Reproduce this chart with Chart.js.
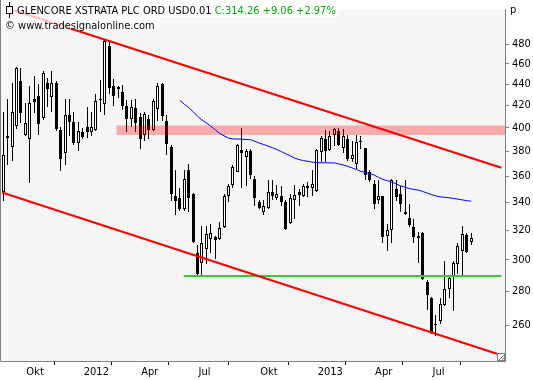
<!DOCTYPE html>
<html><head><meta charset="utf-8">
<script src="https://cdn.jsdelivr.net/npm/chart.js@4.4.0/dist/chart.umd.min.js"></script>
<style>html,body{margin:0;padding:0;background:#fff;overflow:hidden}#wrap{width:533px;height:380px;position:relative}</style>
</head><body><div id="wrap"><canvas id="c" width="533" height="380"></canvas></div>
<script>
// weekly candles (index 0 = first week shown)
const openP = [348,393,384,402,443,393.5,390,426,429,409, 441,428,441,398.5,379,411,405.6,387,396,400.5,
  396,398.5,425,421,478,438.5,437,433,420,408, 418,410,394,408,398,417,440,406,384,345,
  343,335,365,346.5,304.5,298,307,314,315,314, 322,345,353,363.4,381,375,380.5,358,340.5,332.7,
  335.7,347.7,343,345,340.5,325,341.5,347.5,344.6,352, 351,348.7,379.7,390.6,381,393.7,397,383,390.6,374,
  370,388.7,382.4,363.4,353.8,342,344.6,316,320,350, 346,332.7,328.7,322.3,314.3,318.2,285.7,276,261,262.4,
  271.8,281.6,288.7,297,306,316.5,311.5];
const highP = [414,426,441,457,456,422,438,448,440,453, 446,453,443,401,426,426,414,405,400,419,
  414,431,444,486,483,445,438.5,439,425,425, 426,413,414,411,426,441,441,411,385,365,
  351,365,370,347,310,323,323,324.5,316,326, 346,354,368.6,386,400,382,382,360,342,341.5,
  357,357,353,352,341.5,346,353,350,354,355.7, 365,382,393,398,397,400,400,399,394,388.7,
  394,393,383,364.7,357,357,345,324.5,358,357, 352,357,339,328,319,319,286.7,276.5,266,275.7,
  299,290,299,311.4,322.6,317.7,317.7];
const lowP = [341,369,372,399,404,393,355,413,393.5,406.5, 419,414,397,364,369,393,385,380,390,391,
  393,397,414,411,431,420,427,416,396.5,401, 396,382,389,390,397,406,406,377,341,331,
  334,334,333,311,289.7,290,297,304.5,300.5,313, 321.5,340,351,363,351,352,358,337,335,331,
  335,342,342,337,320,324.5,328,337,343.8,343.8, 344.6,348,371,371,380.5,384.6,384.6,379,372.5,371,
  366,382,357,355.7,335,338.6,311,305.6,311,341, 332.7,331,322.3,311,298,287,269,255,254,260.5,
  270.9,276,268,290.7,289.7,304.5,309.9];
const closeP = [377,391,414,456,413,404,422,423,403.6,451, 435,441,399,374,411,405,387,397,392,396,
  400.5,424,426,484,436,429,435,420,408,419, 404,390,412,398,424,438,410.5,386.5,346,341,
  335,358,343,312,290.5,311,317,318,313,321.6, 345,352.5,367,385,379,380,361,343,335.7,337,
  347.7,344.6,346.5,340,321,343.4,345.8,345.8,352.5,350.8, 354,381,391.4,380.5,393,399,385.2,393,374,377,
  388,388,361,357,339,344.6,315,320,357,343.8, 339,331.5,323.3,315.4,316.2,287.5,277.7,256,260,272.2,
  281.6,288,298,308.8,317,305.2,314.26];

// moving average, starts at week index maStart
const maStart = 40;
const maValues = [424.7,421.2,418.1,414.4,410.3,407.0,404.3,401.5,398.4,395.2,
  393.2,391.2,390.5,390.4,390.2,390.0,389.8,388.4,386.9,385.7,
  384.4,383.0,381.5,379.8,378.0,376.3,374.5,373.3,372.4,371.9,
  371.1,370.7,370.7,370.7,370.6,370.6,369.7,368.9,367.8,366.6,
  365.2,363.8,362.8,361.9,360.9,359.0,357.4,356.5,355.5,353.9,
  352.5,351.4,350.3,349.8,349.2,348.2,347.0,345.8,344.8,344.1,
  343.8,343.4,342.9,342.4,341.8,341.3,340.8];

// x-axis month ticks (week index) and labels
const tickIdx = [5,18,31,44,58,71,84,97];
const tickLbl = ['Okt','2012','Apr','Jul','Okt','2013','Apr','Jul'];
const yTicks = [260,280,300,320,340,360,380,400,420,440,460,480];

// drawn trend lines (week index, price)
const upperChannel = [{x:1.5,y:518.5},{x:112.85,y:366.6}];
const lowerChannel = [{x:-0.3,y:347.4},{x:112.85,y:243.5}];
const supportLine = [{x:40.9,y:289.5},{x:112.85,y:289.5}];
const zoneTop = [{x:25.6,y:402},{x:113.65,y:402}];
const zoneBottom = 393.8;

const titleText = 'GLENCORE XSTRATA PLC ORD USD0.01';
const quoteText = 'C:314.26 +9.06 +2.97%';
const copyText = '\u00A9 www.tradesignalonline.com';

const FONT = '"DejaVu Sans Condensed", "DejaVu Sans", sans-serif';
const idx = openP.map((_, i) => i);

const snap = {
  id: 'snap',
  beforeDatasetDraw(chart, args) {
    const ds = chart.data.datasets[args.index];
    if (!ds.snapX) return;
    args.meta.data.forEach(el => {
      el.x = Math.floor(el.x) + 0.5;
      el.y = Math.round(el.y);
      el.base = Math.round(el.base);
    });
  }
};

const deco = {
  id: 'deco',
  beforeDraw(chart) {
    const {ctx, chartArea: a} = chart;
    ctx.save();
    ctx.fillStyle = '#fff';
    ctx.fillRect(0, 0, chart.width, chart.height);
    ctx.fillStyle = '#f5f5f5';
    ctx.fillRect(a.left, a.top, a.right - a.left, a.bottom - a.top);
    ctx.restore();
  },
  afterDraw(chart) {
    const {ctx, chartArea: a} = chart;
    ctx.save();
    ctx.strokeStyle = '#808080';
    ctx.lineWidth = 1;
    ctx.beginPath(); ctx.moveTo(0.5, 0); ctx.lineTo(0.5, a.bottom + 0.5); ctx.stroke();
    ctx.font = '11px ' + FONT;
    const tw = ctx.measureText(titleText + ' ').width;
    const qw = ctx.measureText(quoteText).width;
    ctx.fillStyle = 'rgba(255,255,255,0.75)';
    ctx.fillRect(1, 0, 17 + tw + qw + 3, 17);
    const cw = ctx.measureText(copyText).width;
    ctx.fillRect(1, 17, 5 + cw + 4, 12);
    ctx.strokeStyle = '#000';
    ctx.beginPath(); ctx.moveTo(9.5, 2); ctx.lineTo(9.5, 18); ctx.stroke();
    ctx.fillStyle = '#fff';
    ctx.fillRect(6.5, 6.5, 6, 7);
    ctx.strokeRect(6.5, 6.5, 6, 7);
    ctx.textBaseline = 'alphabetic';
    ctx.fillStyle = '#000';
    ctx.fillText(titleText, 17, 14);
    ctx.fillStyle = '#00a800';
    ctx.fillText(quoteText, 17 + tw, 14);
    ctx.fillStyle = '#000';
    ctx.fillText(copyText, 5, 29);
    ctx.fillText('p', 510, 13);
    ctx.fillStyle = '#fff';
    ctx.fillRect(a.right - 7, a.bottom - 7, 7, 7);
    ctx.strokeStyle = '#808080';
    ctx.strokeRect(a.right - 7.5, a.bottom - 7.5, 7, 7);
    ctx.beginPath(); ctx.moveTo(a.right - 6, a.bottom - 1); ctx.lineTo(a.right - 1, a.bottom - 6);
    ctx.moveTo(a.right - 3, a.bottom - 1); ctx.lineTo(a.right - 1, a.bottom - 3); ctx.stroke();
    ctx.restore();
  }
};

new Chart(document.getElementById('c'), {
  type: 'bar',
  data: {
    datasets: [
      {
        type: 'bar', label: 'wick', snapX: true,
        data: idx.map(i => ({x: i, y: [lowP[i], highP[i]]})),
        backgroundColor: '#000', borderWidth: 0, barThickness: 1,
        grouped: false, inflateAmount: 0, order: 10
      },
      {
        type: 'bar', label: 'body', snapX: true,
        data: idx.map(i => ({x: i, y: [openP[i], closeP[i]]})),
        backgroundColor: idx.map(i => closeP[i] >= openP[i] ? '#ffffff' : '#000000'),
        borderColor: '#000', borderWidth: 1, borderSkipped: false, barThickness: 3,
        grouped: false, inflateAmount: 0, order: 9
      },
      {
        type: 'line', label: 'zone', data: zoneTop,
        borderWidth: 0, borderColor: 'rgba(0,0,0,0)', pointRadius: 0,
        fill: {value: zoneBottom}, backgroundColor: 'rgba(255,0,0,0.3)', order: 8
      },
      {
        type: 'line', label: 'MA',
        data: maValues.map((v, k) => ({x: maStart + k, y: v})),
        borderColor: '#0000ff', borderWidth: 1, pointRadius: 0, tension: 0, fill: false, order: 7
      },
      {
        type: 'line', label: 'support', data: supportLine,
        borderColor: '#33cc33', borderWidth: 2, pointRadius: 0, fill: false, order: 6
      },
      {
        type: 'line', label: 'upper', data: upperChannel,
        borderColor: '#ff0000', borderWidth: 2.1, pointRadius: 0, fill: false, order: 5
      },
      {
        type: 'line', label: 'lower', data: lowerChannel,
        borderColor: '#ff0000', borderWidth: 2.1, pointRadius: 0, fill: false, order: 5
      }
    ]
  },
  options: {
    responsive: false, animation: false, devicePixelRatio: 1,
    layout: {padding: {left: 1, top: 0, right: 0, bottom: 0}},
    plugins: {legend: {display: false}, tooltip: {enabled: false}, title: {display: false}},
    scales: {
      x: {
        type: 'linear', offset: false, min: -0.52, max: 113.65,
        afterBuildTicks: s => { s.ticks = tickIdx.map(v => ({value: v})); },
        afterFit: s => { s.height = 19; },
        ticks: {
          callback: (v, i) => tickLbl[i], align: 'start', labelOffset: 1, padding: 1,
          autoSkip: false, maxRotation: 0, color: '#000', font: {family: FONT, size: 11}
        },
        grid: {drawOnChartArea: false, drawTicks: true, tickLength: 4, color: '#000'},
        border: {display: true, color: '#808080'}
      },
      y: {
        type: 'logarithmic', position: 'right', min: 240.5, max: 517.8,
        afterBuildTicks: s => { s.ticks = yTicks.map(v => ({value: v})); },
        afterFit: s => { s.width = 28; },
        ticks: {
          callback: v => String(v), padding: 3, autoSkip: false,
          color: '#000', font: {family: FONT, size: 11}
        },
        grid: {drawOnChartArea: false, drawTicks: true, tickLength: 4, color: '#808080'},
        border: {display: true, color: '#808080'}
      }
    }
  },
  plugins: [snap, deco]
});
</script>
</body></html>
